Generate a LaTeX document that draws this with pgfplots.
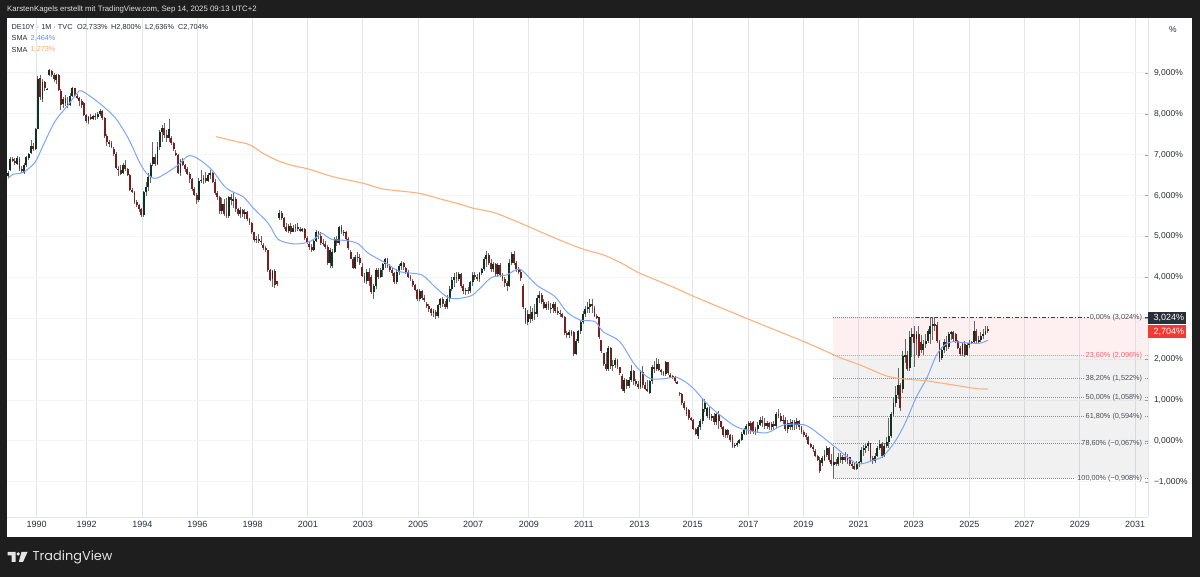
\documentclass[border=0pt]{standalone}
\usepackage{fontspec}
\usepackage{pgfplots}
\usepackage{pgfplotstable}
\pgfplotsset{compat=1.18}
\setmainfont{Liberation Sans}
\newfontfamily\logofont{Poppins}

\definecolor{panel}{HTML}{1E1E1E}
\definecolor{upbar}{HTML}{0F3320}
\definecolor{downbar}{HTML}{7A1F1F}
\definecolor{wick}{HTML}{666666}
\definecolor{smablue}{HTML}{7CA6FB}
\definecolor{smaorange}{HTML}{FBB27E}
\definecolor{gridc}{HTML}{E4E6EE}
\definecolor{txt}{HTML}{2A2E39}
\definecolor{fibtxt}{HTML}{4A4C52}
\definecolor{redlab}{HTML}{F23B30}
\definecolor{fibred}{HTML}{F4616C}
\definecolor{fibgrey}{HTML}{8A8C92}

\newcommand{\sm}{\fontsize{8.5}{10}\selectfont}
\newcommand{\lgd}{\fontsize{7.3}{9}\selectfont}
\newcommand{\fb}{\fontsize{7.3}{9}\selectfont}

% bar number, open, high, low, close (percent)
\pgfplotstableread{
i o h l c
0 6.48 6.60 6.44 6.55
1 6.62 6.95 6.60 6.90
2 6.90 6.95 6.82 6.85
3 6.85 6.92 6.75 6.80
4 6.78 6.96 6.74 6.93
5 6.90 6.95 6.60 6.66
6 6.66 6.72 6.55 6.60
7 6.56 6.80 6.52 6.76
8 6.76 6.98 6.70 6.94
9 6.92 7.05 6.88 7.02
10 7.05 7.35 7.02 7.22
11 7.22 7.28 7.10 7.14
12 7.14 7.66 7.12 7.64
13 7.64 8.93 7.62 8.85
14 8.88 8.95 8.33 8.40
15 8.36 8.85 8.30 8.78
16 8.78 8.80 8.55 8.62
17 8.60 8.62 8.58 8.61
18 8.95 9.10 8.92 9.07
19 9.05 9.07 8.90 8.95
20 8.95 9.00 8.78 8.85
21 8.82 8.98 8.72 8.94
22 8.94 8.98 8.55 8.58
23 8.56 8.60 8.10 8.22
24 8.25 8.40 8.15 8.36
25 8.38 8.45 8.20 8.26
26 8.24 8.42 8.14 8.22
27 8.22 8.50 8.20 8.44
28 8.44 8.66 8.40 8.62
29 8.62 8.64 8.42 8.44
30 8.44 8.48 8.36 8.40
31 8.38 8.40 8.20 8.32
32 8.32 8.36 8.15 8.22
33 8.26 8.30 7.95 7.98
34 7.98 8.00 7.78 7.82
35 7.82 7.95 7.76 7.92
36 7.92 8.00 7.84 7.88
37 7.88 7.98 7.84 7.95
38 7.95 8.02 7.86 7.92
39 7.92 8.04 7.88 8.00
40 8.00 8.11 7.94 8.08
41 8.08 8.10 7.85 7.90
42 7.90 7.92 7.42 7.45
43 7.45 7.50 7.22 7.30
44 7.30 7.36 7.18 7.28
45 7.28 7.34 7.16 7.20
46 7.14 7.20 6.98 7.02
47 7.02 7.06 6.65 6.68
48 6.66 6.72 6.48 6.62
49 6.62 6.74 6.50 6.54
50 6.56 6.80 6.52 6.76
51 6.76 6.86 6.60 6.64
52 6.64 6.68 6.48 6.50
53 6.50 6.52 6.12 6.14
54 6.14 6.18 6.06 6.08
55 6.08 6.12 5.80 5.84
56 5.84 5.88 5.72 5.78
57 5.78 5.80 5.60 5.66
58 5.66 5.70 5.48 5.52
59 5.52 6.12 5.48 6.08
60 6.08 6.32 6.00 6.20
61 6.20 6.55 6.10 6.46
62 6.46 6.80 6.30 6.76
63 6.78 7.30 6.72 6.95
64 6.95 7.02 6.72 6.78
65 6.78 7.30 6.75 7.18
66 7.18 7.60 7.12 7.56
67 7.56 7.72 7.30 7.66
68 7.66 7.78 7.40 7.48
69 7.48 7.60 7.30 7.40
70 7.40 7.88 7.30 7.62
71 7.42 7.45 7.24 7.28
72 7.28 7.30 7.10 7.14
73 7.05 7.12 6.96 7.00
74 7.00 7.02 6.52 6.56
75 6.56 6.90 6.48 6.85
76 6.85 6.92 6.72 6.75
77 6.75 6.78 6.58 6.66
78 6.66 6.70 6.50 6.54
79 6.54 6.58 6.30 6.40
80 6.40 6.42 6.12 6.15
81 6.15 6.20 5.98 6.02
82 6.02 6.06 5.80 5.90
83 5.90 6.44 5.84 6.36
84 6.36 6.62 6.30 6.38
85 6.38 6.50 6.28 6.42
86 6.42 6.58 6.30 6.36
87 6.36 6.56 6.32 6.50
88 6.50 6.62 6.40 6.56
89 6.56 6.58 6.30 6.34
90 6.34 6.40 6.02 6.06
91 6.06 6.10 5.90 5.96
92 5.96 6.00 5.56 5.62
93 5.62 5.95 5.55 5.80
94 5.80 5.92 5.50 5.56
95 5.56 5.95 5.46 5.50
96 5.50 6.00 5.44 5.96
97 5.96 6.05 5.78 5.88
98 5.88 6.08 5.70 5.92
99 5.92 5.96 5.60 5.66
100 5.66 5.70 5.50 5.56
101 5.56 5.72 5.46 5.64
102 5.64 5.68 5.48 5.54
103 5.54 5.66 5.42 5.60
104 5.60 5.62 5.38 5.42
105 5.42 5.44 5.28 5.34
106 5.34 5.36 5.06 5.10
107 5.10 5.12 4.86 4.92
108 4.92 5.02 4.84 4.95
109 4.95 5.05 4.85 4.90
110 4.90 5.00 4.80 4.86
111 4.78 4.84 4.68 4.72
112 4.72 4.76 4.62 4.66
113 4.66 4.68 4.14 4.18
114 4.18 4.20 3.90 3.94
115 3.96 4.18 3.76 4.16
116 4.16 4.20 3.75 3.82
117 3.90 3.92 3.78 3.84
118 5.45 5.64 5.40 5.58
119 5.58 5.62 5.40 5.44
120 5.44 5.48 5.18 5.22
121 5.22 5.32 5.10 5.14
122 5.14 5.30 5.08 5.25
123 5.25 5.34 5.06 5.12
124 5.12 5.28 5.10 5.20
125 5.20 5.30 5.12 5.24
126 5.24 5.32 5.14 5.18
127 5.18 5.22 5.12 5.16
128 5.16 5.20 5.12 5.18
129 5.18 5.20 4.92 4.96
130 4.96 5.00 4.82 4.86
131 4.82 4.86 4.66 4.74
132 4.74 4.82 4.62 4.68
133 4.68 4.95 4.64 4.90
134 4.90 5.16 4.86 5.10
135 5.10 5.14 4.95 5.02
136 5.02 5.10 4.80 4.85
137 4.85 4.94 4.76 4.82
138 4.82 4.88 4.70 4.74
139 4.74 4.78 4.30 4.34
140 4.34 4.72 4.22 4.66
141 4.28 4.70 4.22 4.62
142 4.62 4.98 4.60 4.94
143 4.94 5.00 4.76 4.84
144 4.84 5.26 4.80 5.22
145 5.22 5.28 5.06 5.10
146 5.10 5.16 5.00 5.12
147 5.12 5.14 4.90 4.94
148 4.94 4.98 4.68 4.72
149 4.62 4.66 4.44 4.46
150 4.46 4.50 4.20 4.24
151 4.24 4.55 4.20 4.50
152 4.50 4.62 4.38 4.48
153 4.48 4.56 4.30 4.34
154 4.26 4.34 4.00 4.04
155 4.04 4.10 3.86 3.90
156 3.90 4.20 3.84 4.12
157 4.12 4.22 3.80 3.92
158 4.02 4.06 3.60 3.64
159 3.64 3.84 3.46 3.78
160 3.78 4.22 3.72 4.18
161 4.18 4.24 3.96 4.02
162 4.02 4.24 3.98 4.18
163 4.18 4.36 4.00 4.32
164 4.32 4.48 4.24 4.44
165 4.44 4.48 4.24 4.28
166 4.28 4.32 4.12 4.18
167 4.18 4.24 4.04 4.10
168 4.10 4.12 3.84 3.88
169 3.88 4.20 3.84 4.12
170 4.12 4.32 4.06 4.28
171 4.28 4.40 4.18 4.34
172 4.34 4.38 4.18 4.26
173 4.22 4.26 4.08 4.14
174 4.14 4.18 3.98 4.02
175 4.02 4.06 3.92 3.96
176 3.92 3.96 3.76 3.82
177 3.82 3.84 3.66 3.70
178 3.70 3.72 3.42 3.48
179 3.48 3.72 3.42 3.66
180 3.66 3.70 3.44 3.50
181 3.50 3.58 3.40 3.44
182 3.36 3.40 3.26 3.30
183 3.30 3.34 3.16 3.22
184 3.22 3.26 3.06 3.12
185 3.12 3.22 3.02 3.18
186 3.16 3.20 2.98 3.06
187 3.06 3.36 3.00 3.32
188 3.32 3.50 3.26 3.46
189 3.46 3.52 3.28 3.36
190 3.36 3.42 3.22 3.28
191 3.28 3.56 3.22 3.48
192 3.48 3.78 3.40 3.72
193 3.72 4.00 3.66 3.94
194 3.94 4.10 3.76 4.00
195 4.00 4.12 3.86 3.96
196 3.96 4.14 3.90 4.08
197 4.08 4.10 3.74 3.80
198 3.80 3.84 3.60 3.66
199 3.66 3.74 3.56 3.70
200 3.70 3.76 3.60 3.66
201 3.66 3.92 3.62 3.88
202 3.88 4.12 3.80 4.06
203 4.06 4.14 3.94 4.02
204 4.02 4.08 3.90 3.96
205 3.96 4.14 3.88 4.10
206 4.10 4.24 4.06 4.20
207 4.20 4.50 4.16 4.44
208 4.44 4.65 4.26 4.54
209 4.54 4.60 4.30 4.36
210 4.36 4.44 4.14 4.20
211 4.20 4.38 4.12 4.32
212 4.32 4.36 4.04 4.08
213 4.08 4.36 4.02 4.30
214 4.30 4.34 4.02 4.06
215 4.06 4.10 3.90 3.95
216 3.95 4.02 3.76 3.86
217 3.86 3.92 3.66 3.80
218 3.80 4.44 3.76 4.36
219 4.36 4.62 4.30 4.56
220 4.56 4.65 4.30 4.36
221 4.36 4.40 4.14 4.20
222 4.20 4.26 4.08 4.14
223 4.14 4.18 3.92 3.98
224 3.80 3.84 3.22 3.28
225 3.24 3.26 2.86 2.90
226 2.90 3.20 2.84 3.10
227 3.10 3.30 2.88 2.98
228 2.98 3.26 2.94 3.16
229 3.16 3.36 2.96 3.10
230 3.10 3.56 3.04 3.50
231 3.50 3.66 3.38 3.58
232 3.58 3.62 3.34 3.40
233 3.40 3.48 3.22 3.26
234 3.26 3.40 3.20 3.36
235 3.36 3.42 3.20 3.24
236 3.24 3.38 3.14 3.26
237 3.26 3.40 3.14 3.36
238 3.36 3.40 3.14 3.18
239 3.18 3.28 3.08 3.14
240 3.14 3.20 3.04 3.10
241 3.10 3.14 3.00 3.04
242 3.04 3.06 2.60 2.64
243 2.64 2.70 2.52 2.58
244 2.58 2.72 2.52 2.66
245 2.66 2.72 2.56 2.62
246 2.66 2.70 2.08 2.12
247 2.12 2.50 2.10 2.44
248 2.44 2.72 2.40 2.68
249 2.68 2.95 2.62 2.90
250 2.90 3.18 2.85 3.10
251 3.10 3.30 3.04 3.22
252 3.22 3.40 3.12 3.28
253 3.28 3.48 3.14 3.36
254 3.36 3.46 3.12 3.30
255 3.24 3.30 3.02 3.06
256 3.06 3.10 2.98 3.02
257 3.02 3.04 2.50 2.54
258 2.46 2.48 2.16 2.20
259 2.14 2.16 1.84 1.88
260 1.88 2.18 1.70 1.76
261 1.76 2.32 1.70 2.28
262 2.28 2.30 1.76 1.84
263 1.84 1.98 1.72 1.86
264 1.86 2.02 1.78 1.98
265 1.98 2.00 1.76 1.80
266 1.80 1.82 1.62 1.66
267 1.60 1.64 1.22 1.28
268 1.22 1.54 1.18 1.50
269 1.50 1.52 1.28 1.34
270 1.34 1.56 1.30 1.50
271 1.50 1.86 1.44 1.70
272 1.70 1.74 1.38 1.46
273 1.46 1.52 1.34 1.40
274 1.40 1.46 1.28 1.32
275 1.32 1.74 1.26 1.68
276 1.68 1.84 1.30 1.38
277 1.38 1.44 1.24 1.28
278 1.28 1.48 1.20 1.22
279 1.18 1.50 1.16 1.46
280 1.46 1.86 1.40 1.80
281 1.80 1.96 1.66 1.76
282 1.76 2.04 1.72 1.88
283 1.88 2.00 1.72 1.74
284 1.74 1.76 1.62 1.68
285 1.68 1.72 1.60 1.64
286 1.64 1.96 1.60 1.92
287 1.92 1.94 1.62 1.66
288 1.62 1.66 1.54 1.58
289 1.58 1.62 1.52 1.56
290 1.56 1.60 1.42 1.46
291 1.44 1.46 1.40 1.42
292 1.18 1.20 1.10 1.15
293 1.15 1.18 0.88 0.92
294 0.92 0.98 0.76 0.80
295 0.80 0.84 0.60 0.66
296 0.76 0.78 0.52 0.56
297 0.56 0.58 0.50 0.52
298 0.52 0.54 0.26 0.30
299 0.30 0.32 0.14 0.16
300 0.12 0.40 0.06 0.34
301 0.34 0.54 0.28 0.48
302 0.48 1.05 0.42 0.78
303 0.78 1.02 0.70 0.92
304 0.62 0.84 0.56 0.80
305 0.80 0.84 0.52 0.56
306 0.56 0.66 0.50 0.60
307 0.60 0.68 0.38 0.46
308 0.46 0.70 0.40 0.66
309 0.66 0.74 0.30 0.48
310 0.48 0.50 0.30 0.34
311 0.34 0.36 0.10 0.14
312 0.14 0.30 0.08 0.28
313 0.28 0.30 0.08 0.14
314 0.14 0.18 -0.02 0.02
315 0.10 0.14 -0.17 -0.12
316 -0.12 -0.06 -0.18 -0.10
317 -0.10 0.00 -0.14 -0.04
318 -0.04 0.06 -0.08 0.02
319 0.02 0.22 0.00 0.18
320 0.18 0.32 0.14 0.28
321 0.28 0.42 0.14 0.36
322 0.36 0.48 0.16 0.44
323 0.44 0.50 0.18 0.24
324 0.46 0.50 0.18 0.22
325 0.22 0.34 0.14 0.30
326 0.30 0.46 0.20 0.40
327 0.40 0.58 0.36 0.52
328 0.52 0.62 0.34 0.44
329 0.44 0.56 0.30 0.36
330 0.36 0.50 0.30 0.44
331 0.44 0.46 0.28 0.34
332 0.34 0.46 0.26 0.42
333 0.42 0.50 0.28 0.36
334 0.36 0.72 0.32 0.66
335 0.66 0.78 0.56 0.60
336 0.60 0.68 0.46 0.50
337 0.50 0.64 0.42 0.52
338 0.52 0.58 0.24 0.30
339 0.30 0.52 0.20 0.44
340 0.44 0.54 0.28 0.34
341 0.34 0.52 0.26 0.46
342 0.46 0.52 0.28 0.38
343 0.38 0.56 0.30 0.50
344 0.50 0.52 0.28 0.34
345 0.34 0.36 0.18 0.22
346 0.22 0.26 0.10 0.14
347 0.14 0.20 0.02 0.10
348 0.10 0.12 -0.10 -0.08
349 -0.08 -0.04 -0.16 -0.14
350 -0.14 -0.10 -0.26 -0.20
351 -0.24 -0.20 -0.40 -0.36
352 -0.36 -0.34 -0.50 -0.46
353 -0.46 -0.40 -0.78 -0.74
354 -0.55 -0.36 -0.60 -0.42
355 -0.46 -0.22 -0.50 -0.34
356 -0.34 -0.12 -0.38 -0.18
357 -0.18 -0.14 -0.52 -0.46
358 -0.46 -0.32 -0.60 -0.56
359 -0.58 -0.14 -0.908 -0.52
360 -0.52 -0.45 -0.62 -0.56
361 -0.56 -0.30 -0.60 -0.38
362 -0.38 -0.30 -0.54 -0.46
363 -0.46 -0.34 -0.56 -0.40
364 -0.40 -0.28 -0.52 -0.46
365 -0.46 -0.32 -0.56 -0.40
366 -0.40 -0.38 -0.60 -0.56
367 -0.56 -0.50 -0.68 -0.62
368 -0.62 -0.54 -0.72 -0.68
369 -0.68 -0.50 -0.70 -0.56
370 -0.56 -0.50 -0.64 -0.52
371 -0.52 -0.14 -0.56 -0.22
372 -0.22 -0.10 -0.36 -0.16
373 -0.16 -0.08 -0.30 -0.12
374 -0.12 0.00 -0.24 -0.06
375 -0.06 -0.04 -0.48 -0.42
376 -0.42 -0.36 -0.56 -0.50
377 -0.50 -0.30 -0.54 -0.36
378 -0.36 -0.12 -0.40 -0.18
379 -0.18 0.02 -0.22 -0.08
380 -0.08 -0.02 -0.42 -0.36
381 -0.36 -0.04 -0.38 -0.12
382 -0.12 0.10 -0.16 -0.02
383 -0.02 0.56 -0.16 0.12
384 0.12 0.72 0.08 0.66
385 0.66 1.08 0.60 0.92
386 0.92 1.35 0.84 1.12
387 1.12 1.78 1.02 1.38
388 1.38 1.42 0.74 0.80
389 1.26 2.20 1.18 2.08
390 2.08 2.50 1.90 2.10
391 2.10 2.20 1.70 1.76
392 1.78 2.70 1.70 2.54
393 2.54 2.76 2.06 2.62
394 2.62 2.80 1.80 2.40
395 2.50 2.70 2.10 2.62
396 2.62 2.80 2.02 2.08
397 2.42 2.58 2.16 2.22
398 2.22 2.46 2.10 2.38
399 2.38 2.62 2.28 2.44
400 2.44 2.74 2.40 2.68
401 2.62 3.02 2.36 2.80
402 2.80 3.02 2.48 2.85
403 2.85 3.024 2.70 2.80
404 2.84 2.90 2.40 2.44
405 2.42 2.46 1.92 2.02
406 2.02 2.30 1.98 2.22
407 2.22 2.50 2.16 2.42
408 2.42 2.56 2.20 2.30
409 2.30 2.66 2.26 2.62
410 2.62 2.70 2.46 2.66
411 2.66 2.68 2.44 2.50
412 2.62 2.65 2.40 2.44
413 2.44 2.48 2.24 2.28
414 2.28 2.32 2.08 2.12
415 2.12 2.42 2.08 2.38
416 2.38 2.44 2.06 2.10
417 2.10 2.40 2.08 2.34
418 2.34 2.46 2.28 2.40
419 2.40 2.44 2.36 2.42
420 2.42 2.93 2.36 2.70
421 2.70 2.75 2.40 2.44
422 2.44 2.56 2.38 2.46
423 2.46 2.66 2.42 2.56
424 2.56 2.74 2.50 2.62
425 2.62 2.80 2.58 2.68
426 2.733 2.80 2.636 2.704
}\bars

% SMA lines, read at the bends
\pgfplotstableread{
i v
0 6.42
2.3 6.52
6.7 6.57
11.7 6.81
15.4 7.24
20.4 7.81
26.2 8.22
30 8.50
32 8.56
38.6 8.31
46.5 7.91
52.3 7.40
57.4 6.79
61 6.50
64.9 6.43
73.3 6.72
77.7 6.95
79.9 6.97
83.5 6.87
88.6 6.63
95 6.18
102.3 5.97
106.7 5.69
113.2 5.32
117.5 4.93
124 4.82
129.9 4.85
133.5 4.95
136.4 5.08
140.7 4.93
147.2 4.90
152.3 4.82
156.7 4.59
164.6 4.34
170.4 4.14
179.9 4.06
185.6 3.77
192.2 3.49
200.9 3.54
205.2 3.73
210.3 4.00
216.8 4.06
222.6 4.20
229.9 3.81
237.8 3.53
242.9 3.16
248.7 2.96
255.2 2.92
258.8 2.67
266 2.43
272.6 1.86
279.1 1.53
286.4 1.53
290.7 1.56
297.2 1.33
305.2 0.84
315.4 0.39
321.2 0.27
329.9 0.20
337.1 0.39
346.5 0.39
353 0.15
359.5 -0.14
369 -0.55
376.2 -0.47
380.5 -0.37
385.6 -0.02
390 0.43
395 1.08
399.4 1.53
403.7 2.10
407.3 2.35
411 2.43
416 2.40
422.6 2.39
425.5 2.45
426 2.464
}\smafast

\pgfplotstableread{
i v
90.4 7.44
98 7.34
105.2 7.24
111 7.03
117.5 6.85
124 6.73
130.6 6.65
141.4 6.46
154.5 6.30
163.2 6.16
178.4 6.06
187.8 5.92
196.5 5.79
202.3 5.69
211 5.59
219.7 5.40
231.3 5.12
240 4.91
250.1 4.69
258.8 4.55
266 4.37
274.8 4.10
286.4 3.83
300.9 3.47
321.9 2.98
344.3 2.47
353 2.26
361.7 2.04
370.4 1.86
382 1.59
389.2 1.52
399.4 1.47
411 1.37
421.1 1.28
426 1.273
}\smaslow

% fib levels, with a break where the label sits
\pgfplotstableread{
x y
358.8 -0.067
467.4 -0.067
467.4 nan
494.3 -0.067
495.6 -0.067
495.6 nan
358.8 0.594
468.3 0.594
468.3 nan
494.3 0.594
495.6 0.594
495.6 nan
358.8 1.058
468.3 1.058
468.3 nan
494.3 1.058
495.6 1.058
495.6 nan
358.8 1.522
468.3 1.522
468.3 nan
494.3 1.522
495.6 1.522
495.6 nan
358.8 3.024
400 3.024
}\fiblevels

\begin{document}
\begin{tikzpicture}[x=1pt,y=1pt]
\fill[panel] (0,0) rectangle (1200,577);
\fill[white] (7,40) rectangle (1192,559);
\begin{axis}[
  at={(7pt,60pt)}, anchor=south west,
  scale only axis, width=1141pt, height=499pt,
  xmin=-0.43, xmax=495.65, ymin=-1.858, ymax=10.342,
  axis x line*=bottom, axis y line*=right,
  axis line style={draw=gridc, -},
  tick align=inside, major tick length=3pt,
  xtick={12.5,34.2,58.4,82.3,106.4,130.4,154.3,178.3,202.2,226.5,250.4,274.5,297.7,321.9,345.8,369.8,393.8,418,441.9,466,490.1},
  xticklabels={1990,1992,1994,1996,1998,2001,2003,2005,2007,2009,2011,2013,2015,2017,2019,2021,2023,2025,2027,2029,2031},
  ytick={-1,0,1,2,3,4,5,6,7,8,9},
  yticklabels={−1{,}000\%,0{,}000\%,1{,}000\%,2{,}000\%,3{,}000\%,4{,}000\%,5{,}000\%,6{,}000\%,7{,}000\%,8{,}000\%,9{,}000\%},
  xtick style={draw=none}, ytick style={draw=gridc!70!black},
  xticklabel style={font=\fontsize{9}{10}\selectfont, text=txt, yshift=-1pt},
  yticklabel style={font=\sm, text=txt, anchor=west, xshift=2.5pt},
  xmajorgrids, ymajorgrids,
  x grid style={gridc, line width=1pt},
  y grid style={gridc!45, line width=1pt},
  unbounded coords=jump,
]
% fib zones
\addplot[draw=none, fill=fibred, fill opacity=0.09, forget plot] coordinates {(358.8,2.096)(495.65,2.096)(495.65,3.024)(358.8,3.024)} -- cycle;
\addplot[draw=none, fill=black!60, fill opacity=0.09, forget plot] coordinates {(358.8,-0.908)(495.65,-0.908)(495.65,2.096)(358.8,2.096)} -- cycle;
\addplot[fibgrey, line width=0.9pt, dash pattern=on 1pt off 1pt, forget plot] table[x=x,y=y] {\fiblevels};
\addplot[fibgrey, line width=0.9pt, dash pattern=on 1pt off 1pt, forget plot] coordinates {(358.8,-0.908)(463.9,-0.908)};
\addplot[fibgrey, line width=0.9pt, dash pattern=on 1pt off 1pt, forget plot] coordinates {(494.3,-0.908)(495.6,-0.908)};
\addplot[fibred!70, line width=0.9pt, dash pattern=on 1pt off 1pt, forget plot] coordinates {(358.8,2.096)(468.3,2.096)};
\addplot[fibred!70, line width=0.9pt, dash pattern=on 1pt off 1pt, forget plot] coordinates {(494.3,2.096)(495.6,2.096)};
\addplot[black!75, line width=0.8pt, dash pattern=on 4pt off 2pt on 1pt off 2pt, forget plot] coordinates {(395,3.024)(470,3.024)};
\addplot[black!75, line width=0.8pt, forget plot] coordinates {(494.3,3.024)(495.6,3.024)};
% wicks
\addplot[draw=none, mark=none, forget plot, error bars/.cd, y dir=both, y explicit, error mark=none,
  error bar style={wick, line width=0.9pt}]
  table[x=i, y expr={(\thisrow{h}+\thisrow{l})/2}, y error expr={(\thisrow{h}-\thisrow{l})/2}] {\bars};
% up and down bodies
\addplot[draw=none, mark=none, forget plot, error bars/.cd, y dir=both, y explicit, error mark=none,
  error bar style={upbar, line width=1.9pt}]
  table[x=i, y expr={\thisrow{c}>=\thisrow{o} ? (\thisrow{o}+\thisrow{c})/2 : nan}, y error expr={abs(\thisrow{c}-\thisrow{o})/2}] {\bars};
\addplot[draw=none, mark=none, forget plot, error bars/.cd, y dir=both, y explicit, error mark=none,
  error bar style={downbar, line width=1.9pt}]
  table[x=i, y expr={\thisrow{c}<\thisrow{o} ? (\thisrow{o}+\thisrow{c})/2 : nan}, y error expr={abs(\thisrow{c}-\thisrow{o})/2}] {\bars};
% moving averages
\addplot[smablue, line width=1pt, smooth, tension=0.5, forget plot] table[x=i,y=v] {\smafast};
\addplot[smaorange, line width=1.1pt, smooth, tension=0.5, forget plot] table[x=i,y=v] {\smaslow};
% fib labels
\node[anchor=east, inner sep=0pt, font=\fb, text=fibtxt] at (axis cs:493.2,3.024) {0,00\% (3,024\%)};
\node[anchor=east, inner sep=0pt, font=\fb, text=fibred] at (axis cs:493.2,2.096) {23,60\% (2,096\%)};
\node[anchor=east, inner sep=0pt, font=\fb, text=fibtxt] at (axis cs:493.2,1.522) {38,20\% (1,522\%)};
\node[anchor=east, inner sep=0pt, font=\fb, text=fibtxt] at (axis cs:493.2,1.058) {50,00\% (1,058\%)};
\node[anchor=east, inner sep=0pt, font=\fb, text=fibtxt] at (axis cs:493.2,0.594) {61,80\% (0,594\%)};
\node[anchor=east, inner sep=0pt, font=\fb, text=fibtxt] at (axis cs:493.2,-0.067) {78,60\% (−0,067\%)};
\node[anchor=east, inner sep=0pt, font=\fb, text=fibtxt] at (axis cs:493.2,-0.908) {100,00\% (−0,908\%)};
\end{axis}
% header, legend and price labels in picture coordinates
\node[anchor=west, inner sep=0pt, text=white!88!black, font=\fontsize{7.8}{9}\selectfont] at (7,567.5) {KarstenKagels erstellt mit TradingView.com, Sep 14, 2025 09:13 UTC+2};
\node[anchor=west, inner sep=0pt, text=txt, font=\lgd] at (11.5,550) {DE10Y · 1M · TVC};
\node[anchor=west, inner sep=0pt, text=txt, font=\lgd] at (77,550) {O2,733\%};
\node[anchor=west, inner sep=0pt, text=txt, font=\lgd] at (111,550) {H2,800\%};
\node[anchor=west, inner sep=0pt, text=txt, font=\lgd] at (145,550) {L2,636\%};
\node[anchor=west, inner sep=0pt, text=txt, font=\lgd] at (178,550) {C2,704\%};
\node[anchor=west, inner sep=0pt, text=txt, font=\lgd] at (11.5,539) {SMA};
\node[anchor=west, inner sep=0pt, text=smablue!85!blue, font=\lgd] at (30.5,539) {2,464\%};
\node[anchor=west, inner sep=0pt, text=txt, font=\lgd] at (11.5,527.5) {SMA};
\node[anchor=west, inner sep=0pt, text=smaorange!85!orange, font=\lgd] at (30.5,527.5) {1,273\%};
\node[anchor=west, inner sep=0pt, text=txt, font=\sm] at (1169,547) {\%};
\fill[txt] (1148,253) rectangle (1186,265);
\node[anchor=west, inner sep=0pt, text=white, font=\fontsize{9}{10}\selectfont] at (1153.5,259) {3,024\%};
\fill[redlab] (1148,239) rectangle (1186,252);
\node[anchor=west, inner sep=0pt, text=white, font=\fontsize{9}{10}\selectfont] at (1153.5,245.5) {2,704\%};
% logo
\fill[white!90!black] (7.5,25) -- (15.5,25) -- (15.5,15) -- (11.5,15) -- (11.5,21.5) -- (7.5,21.5) -- cycle;
\fill[white!90!black] (18.2,23) circle (1.8);
\fill[white!90!black] (21.5,25) -- (27.5,25) -- (23,15) -- (18.8,15) -- cycle;
\node[anchor=west, inner sep=0pt, text=white!90!black] at (32.5,20) {\logofont\fontsize{12.9}{15}\selectfont TradingView};
\end{tikzpicture}
\end{document}
